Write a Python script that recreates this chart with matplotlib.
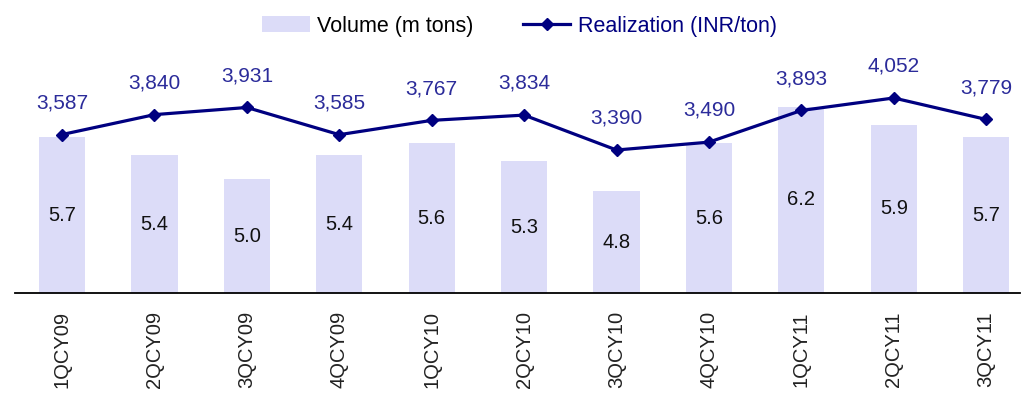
import numpy as np
import matplotlib as mpl
mpl.use('Agg')
import matplotlib.pyplot as plt

quarters = ['1QCY09', '2QCY09', '3QCY09', '4QCY09', '1QCY10', '2QCY10',
            '3QCY10', '4QCY10', '1QCY11', '2QCY11', '3QCY11']
volume = [5.7, 5.4, 5.0, 5.4, 5.6, 5.3, 4.8, 5.6, 6.2, 5.9, 5.7]
realization = [3587, 3840, 3931, 3585, 3767, 3834, 3390, 3490, 3893, 4052, 3779]

plt.rcParams['font.family'] = ['Liberation Sans', 'DejaVu Sans']

bar_col = '#dcdcf8'
line_col = '#000080'
lbl_col = '#2b2b9a'

fig = plt.figure(figsize=(10.29, 3.94), dpi=100)
ax = fig.add_axes([0.0146, 0.256, 0.977, 0.63])
x = np.arange(len(quarters))

bars = ax.bar(x, volume, width=0.5, color=bar_col, label='Volume (m tons)', zorder=1)
ax.set_ylim(3.1, 7.23)
ax.set_xlim(-0.509, 10.37)
for xi, v in zip(x, volume):
    ax.text(xi, (3.1 + v) / 2, '%.1f' % v, ha='center', va='center', fontsize=14.5, color='#111111')

ax2 = ax.twinx()
ln, = ax2.plot(x, realization, color=line_col, lw=2.3, marker='D', ms=6.5,
               label='Realization (INR/ton)', zorder=3)
ax2.set_ylim(1569, 4727)
for xi, r in zip(x, realization):
    ax2.annotate(format(r, ','), (xi, r), xytext=(0, 16), textcoords='offset points',
                 ha='center', va='bottom', fontsize=15, color=lbl_col)

for a in (ax, ax2):
    for s in ['top', 'right', 'left']:
        a.spines[s].set_visible(False)
    a.set_yticks([])
ax2.spines['bottom'].set_visible(False)
ax.spines['bottom'].set_linewidth(1.3)
ax.set_xticks(x)
ax.set_xticklabels(quarters, rotation=90, fontsize=14.5, color='#222222')
ax.tick_params(axis='x', length=0, pad=13)

leg = fig.legend([bars, ln], ['Volume (m tons)', 'Realization (INR/ton)'], loc='center',
                 bbox_to_anchor=(0.505, 0.934), ncol=2, frameon=False, fontsize=15.5,
                 handlelength=2.2, handletextpad=0.35, columnspacing=2.3)
leg.get_texts()[1].set_color(line_col)

plt.savefig('out.png')
